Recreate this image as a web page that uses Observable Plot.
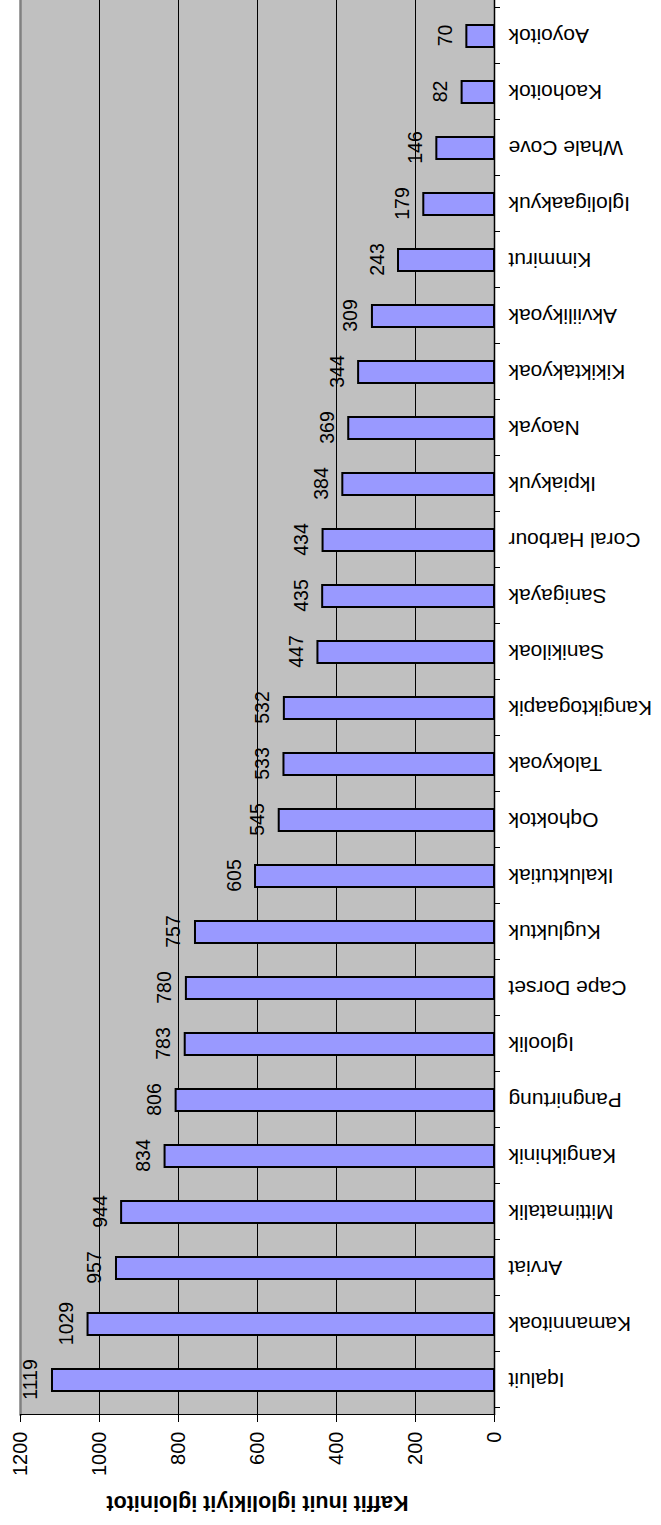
<!DOCTYPE html>
<html>
<head>
<meta charset="utf-8">
<script src="https://cdn.jsdelivr.net/npm/d3@7"></script>
<script src="https://cdn.jsdelivr.net/npm/@observablehq/plot@0.6"></script>
<style>
  html, body { margin: 0; padding: 0; background: #fff; overflow: hidden; }
  #wrap { position: relative; width: 661px; height: 1525px; overflow: hidden; }
  #chart { position: absolute; left: 0; top: 0; width: 1525px; height: 661px;
           transform-origin: 0 0; transform: translate(0px, 1525px) rotate(-90deg); }
</style>
</head>
<body>
<div id="wrap"><div id="chart"></div></div>
<script>
const communities = ["Iqaluit","Kamannitoak","Arviat","Mittimatalik","Kangikhinik","Pangnirtung","Igloolik","Cape Dorset","Kugluktuk","Ikaluktutiak","Oqhoktok","Talokyoak","Kangiktogaapik","Sanikiloak","Sanigayak","Coral Harbour","Ikpiakyuk","Naoyak","Kikiktakyoak","Akviilikyoak","Kimmirut","Igloligaakyuk","Whale Cove","Kaohoitok","Aoyoitok"];
const counts = [1119,1029,957,944,834,806,783,780,757,605,545,533,532,447,435,434,384,369,344,309,243,179,146,82,70];
const valueTicks = [0,200,400,600,800,1000,1200];
const gridTicks = [200,400,600,800,1000];
const axisTitle = "Kaffit inuit iglolikiyit igloinitot";

const data = communities.map((c, i) => ({name: c, value: counts[i]}));

const W = 1525, H = 661;
const font = "Liberation Sans, Arial, sans-serif";

function build(step) {
  const marks = [
    Plot.frame({fill: "#c0c0c0"}),
    Plot.gridY(gridTicks, {stroke: "#000", strokeOpacity: 1, strokeWidth: 1}),
    Plot.frame({anchor: "top", stroke: "#808080", strokeWidth: 2.5}),
    Plot.barY(data, {x: "name", y: "value", fill: "#9999ff", stroke: "#000", strokeWidth: 2}),
    Plot.ruleY([0], {stroke: "#000", strokeWidth: 1.5}),
    Plot.frame({anchor: "left", stroke: "#000", strokeWidth: 1.2}),
    Plot.axisY(valueTicks, {anchor: "left", label: null, tickSize: 7, tickPadding: 10, fontSize: 20, tickFormat: d => String(d), stroke: "#000", fill: "#000"}),
    Plot.axisX({anchor: "bottom", label: null, tickSize: 0, tickPadding: 14, tickRotate: -90, fontSize: 21, fill: "#000"}),
    Plot.text(data, {x: "name", y: "value", text: d => String(d.value), lineAnchor: "bottom", dy: -15, fontSize: 19.5, fill: "#000"}),
    Plot.text([axisTitle], {frameAnchor: "left", textAnchor: "middle", rotate: -90, dx: -88, fontSize: 21.5, fontWeight: "bold", fill: "#000"})
  ];
  if (step) {
    marks.push(Plot.axisX(communities, {anchor: "bottom", label: null, tickSize: 6, dx: step / 2, tickFormat: () => "", stroke: "#000"}));
    marks.push(Plot.axisX([communities[0]], {anchor: "bottom", label: null, tickSize: 6, dx: -step / 2, tickFormat: () => "", stroke: "#000"}));
  }
  return Plot.plot({
    width: W,
    height: H,
    marginLeft: 110,
    marginRight: 0,
    marginTop: 20,
    marginBottom: 167,
    style: {fontFamily: font, background: "#fff", color: "#000", overflow: "visible"},
    x: {domain: communities, paddingInner: 0.6, paddingOuter: 0.3, axis: null},
    y: {domain: [0, 1200], axis: null},
    marks
  });
}

const tmp = build(0);
const step = tmp.scale("x").step;
document.getElementById("chart").appendChild(build(step));
</script>
</body>
</html>
